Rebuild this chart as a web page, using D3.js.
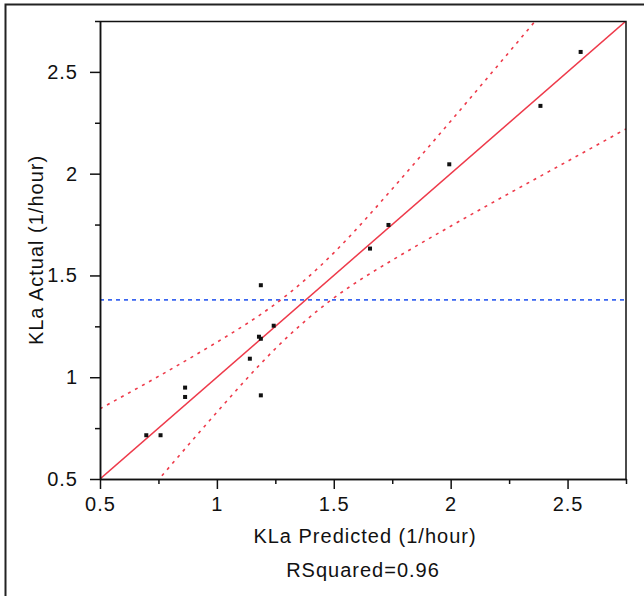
<!DOCTYPE html>
<html>
<head>
<meta charset="utf-8">
<script src="https://cdn.jsdelivr.net/npm/d3@7"></script>
<style>
  body { margin: 0; background: #fff; }
  text { font-family: "Liberation Sans", Arial, sans-serif; }
</style>
</head>
<body>
<div id="chart"></div>
<script>
// data
var predicted = [0.698, 0.759, 0.864, 0.864, 1.141, 1.180, 1.188, 1.188, 1.188, 1.243, 1.655, 1.734, 1.994, 2.384, 2.556];
var actual    = [0.715, 0.715, 0.949, 0.903, 1.091, 1.199, 1.189, 1.452, 0.911, 1.253, 1.632, 1.748, 2.046, 2.333, 2.598];

// fit line and its confidence curves
var fitX = [0.5, 2.75];
var fitY = [0.5, 2.75];
var upperX = [0.5, 0.75, 1.0, 1.25, 1.5, 1.75, 2.0, 2.25, 2.5];
var upperY = [0.845, 1.004, 1.172, 1.36, 1.611, 1.925, 2.258, 2.597, 2.939];
var lowerX = [0.5, 0.75, 1.0, 1.25, 1.5, 1.75, 2.0, 2.25, 2.5, 2.75];
var lowerY = [0.155, 0.496, 0.828, 1.14, 1.389, 1.575, 1.742, 1.903, 2.061, 2.22];
var meanActual = 1.38;

var majorTicks = [0.5, 1, 1.5, 2, 2.5];
var minorTicks = [0.75, 1.25, 1.75, 2.25, 2.75];
var xTitle = "KLa Predicted (1/hour)";
var yTitle = "KLa Actual (1/hour)";
var rsqText = "RSquared=0.96";

var W = 644, H = 596;
var margin = {top: 21, right: 18, bottom: 117, left: 100},
    width = W - margin.left - margin.right,
    height = H - margin.top - margin.bottom;

var root = d3.select("#chart").append("svg")
    .attr("width", W)
    .attr("height", H);

// outer frame (runs off right and bottom)
root.append("rect")
    .attr("x", 5.5).attr("y", 4.5)
    .attr("width", 700).attr("height", 700)
    .attr("fill", "none")
    .attr("stroke", "#222")
    .attr("stroke-width", 2);

var svg = root.append("g")
    .attr("transform", "translate(" + margin.left + "," + margin.top + ")");

var x = d3.scaleLinear().domain([0.5, 2.75]).range([0, width]);
var y = d3.scaleLinear().domain([0.5, 2.75]).range([height, 0]);

svg.append("defs").append("clipPath").attr("id", "clip")
  .append("rect").attr("width", width).attr("height", height);

// lines
var plot = svg.append("g").attr("clip-path", "url(#clip)");

var line = d3.line().x(function(d) { return x(d[0]); }).y(function(d) { return y(d[1]); });
var curve = d3.line().curve(d3.curveNatural)
    .x(function(d) { return x(d[0]); }).y(function(d) { return y(d[1]); });

plot.append("line")
    .attr("x1", 0).attr("x2", width)
    .attr("y1", y(meanActual)).attr("y2", y(meanActual))
    .attr("stroke", "#3a66f0")
    .attr("stroke-width", 1.6)
    .attr("stroke-dasharray", "4,4");

plot.append("path")
    .attr("d", curve(d3.zip(upperX, upperY)))
    .attr("fill", "none").attr("stroke", "#ee3a4a")
    .attr("stroke-width", 1.6).attr("stroke-dasharray", "3,5");
plot.append("path")
    .attr("d", curve(d3.zip(lowerX, lowerY)))
    .attr("fill", "none").attr("stroke", "#ee3a4a")
    .attr("stroke-width", 1.6).attr("stroke-dasharray", "3,5");

plot.append("path")
    .attr("d", line(d3.zip(fitX, fitY)))
    .attr("fill", "none").attr("stroke", "#ee3a4a")
    .attr("stroke-width", 1.5);

// points
svg.append("g")
  .selectAll("rect")
  .data(d3.zip(predicted, actual))
  .enter().append("rect")
    .attr("x", function(d) { return x(d[0]) - 2; })
    .attr("y", function(d) { return y(d[1]) - 2; })
    .attr("width", 4).attr("height", 4)
    .attr("fill", "#111");

// box top and right
svg.append("path")
    .attr("d", "M0,0.5H" + width + "V" + height)
    .attr("fill", "none").attr("stroke", "#111").attr("stroke-width", 1.5);

// axes: minor then major
function styleAxis(g) {
  g.select(".domain").attr("stroke", "#111").attr("stroke-width", 1.5);
  g.selectAll(".tick line").attr("stroke", "#111").attr("stroke-width", 1.5);
  g.selectAll("text").attr("font-size", 20).attr("fill", "#111")
    .style("letter-spacing", "1px")
    .style("font-family", "'Liberation Sans', Arial, sans-serif");
}

svg.append("g")
    .attr("transform", "translate(0," + height + ")")
    .call(d3.axisBottom(x).tickValues(minorTicks).tickSize(5).tickSizeOuter(0).tickFormat(""))
    .call(styleAxis);
svg.append("g")
    .attr("transform", "translate(0," + height + ")")
    .call(d3.axisBottom(x).tickValues(majorTicks).tickSize(10).tickSizeOuter(0).tickPadding(8).tickFormat(d3.format("")))
    .call(styleAxis);

svg.append("g")
    .call(d3.axisLeft(y).tickValues(minorTicks).tickSize(5).tickSizeOuter(0).tickFormat(""))
    .call(styleAxis);
svg.append("g")
    .call(d3.axisLeft(y).tickValues(majorTicks).tickSize(10).tickSizeOuter(0).tickPadding(12).tickFormat(d3.format("")))
    .call(styleAxis);

// titles
root.append("text")
    .attr("x", margin.left + width / 2 + 2)
    .attr("y", 543)
    .attr("text-anchor", "middle")
    .attr("font-size", 20)
    .style("letter-spacing", "1px")
    .attr("fill", "#111")
    .text(xTitle);

root.append("text")
    .attr("x", margin.left + width / 2)
    .attr("y", 577)
    .attr("text-anchor", "middle")
    .attr("font-size", 20)
    .style("letter-spacing", "1px")
    .attr("fill", "#111")
    .text(rsqText);

root.append("text")
    .attr("transform", "translate(43," + 250 + ") rotate(-90)")
    .attr("text-anchor", "middle")
    .attr("font-size", 20)
    .style("letter-spacing", "1px")
    .attr("fill", "#111")
    .text(yTitle);
</script>
</body>
</html>
